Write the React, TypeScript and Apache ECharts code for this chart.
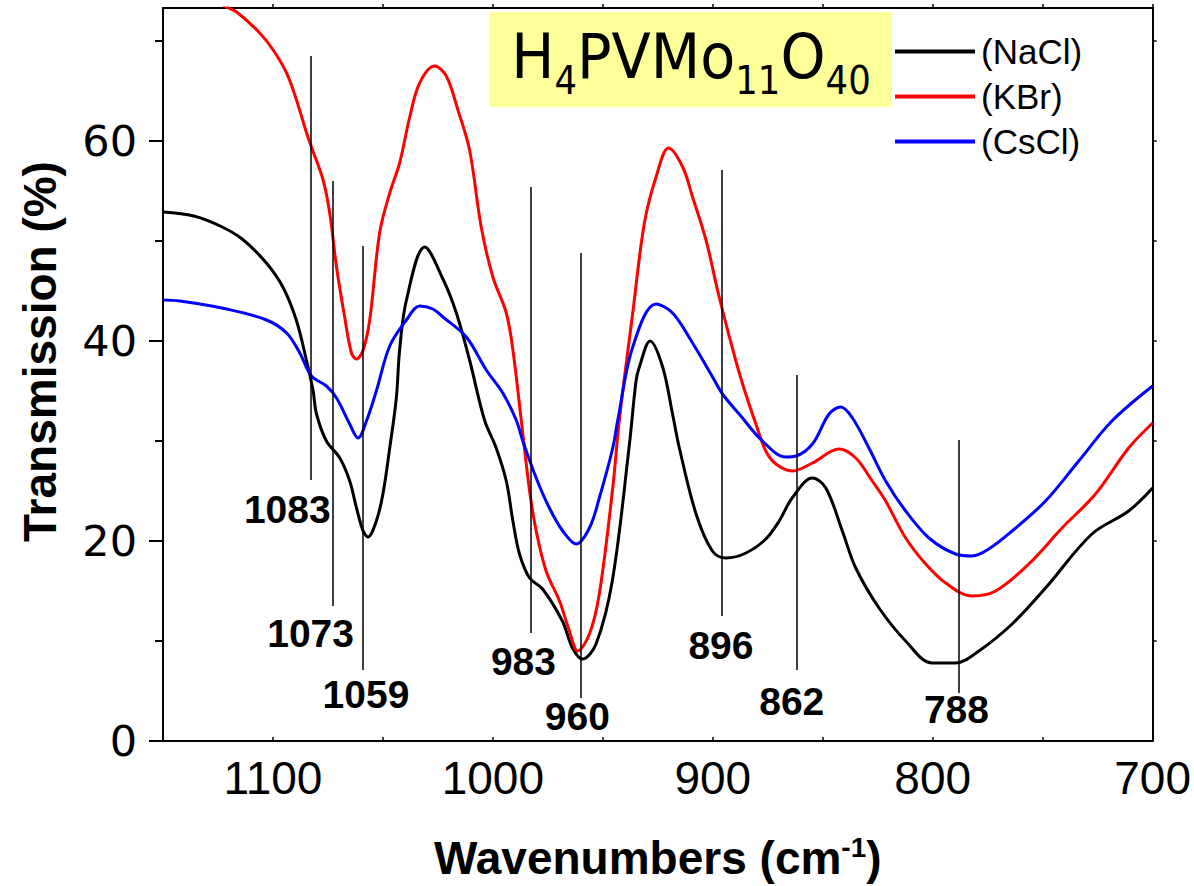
import React, { useEffect, useRef } from "react";
import * as echarts from "echarts";

// Wavenumber (cm-1), transmission (%)
const NACL: [number, number][] = [
  [1150, 52.9], [1136, 52.5], [1124, 51.5], [1114, 50.2], [1103, 47.8], [1095.5, 45.4],
  [1089.4, 42.1], [1084.8, 38.1], [1081.8, 35.1], [1080.2, 32.7], [1075.7, 30.0],
  [1069.6, 28.3], [1065.1, 26.0], [1062.0, 23.3], [1059.0, 21.0], [1056.8, 20.4],
  [1053.0, 22.0], [1050.0, 24.7], [1046.9, 29.3], [1043.9, 34.3], [1042.4, 39.1],
  [1039.3, 44.1], [1031.0, 49.4], [1022.7, 46.2], [1016.6, 42.8], [1010.6, 38.1],
  [1003.8, 32.1], [998.5, 29.3], [993.9, 26.0], [990.9, 22.0], [987.9, 18.7],
  [983.3, 16.3], [977.4, 15.2], [968.4, 12.0], [963.8, 9.3], [959.3, 8.2],
  [953.1, 9.7], [945.7, 16.0], [938.0, 29.5], [934.9, 36.0], [933.4, 37.4],
  [928.5, 40.0], [922.8, 37.4], [918.3, 32.7], [915.2, 29.3], [907.6, 22.7],
  [900.2, 19.0], [894.0, 18.3], [884.9, 18.8], [875.9, 20.2], [869.8, 22.0],
  [863.9, 24.3], [854.7, 26.3], [848.6, 25.3], [841.1, 21.0], [835.0, 17.3],
  [824.4, 13.3], [812.3, 10.0], [800.2, 7.8], [789.6, 7.8], [779.0, 9.0],
  [763.9, 11.7], [748.7, 15.3], [727.6, 20.7], [710.9, 23.0], [700, 25.3],
];

const KBR: [number, number][] = [
  [1150, 77.0], [1135, 75.3], [1121.1, 73.4], [1116.5, 72.9], [1106.0, 70.8],
  [1099.9, 69.1], [1093.8, 66.8], [1089.3, 64.1], [1084.7, 60.8], [1082.5, 59.4],
  [1077.2, 56.1], [1074.2, 52.8], [1071.1, 47.4], [1067.4, 42.4], [1064.3, 38.8],
  [1062.0, 38.2], [1059.0, 39.1], [1056.0, 42.1], [1051.5, 50.8], [1046.9, 54.8],
  [1042.4, 57.8], [1037.8, 62.4], [1033.3, 65.8], [1026.5, 67.5], [1021.2, 66.5],
  [1015.9, 63.1], [1010.6, 59.1], [1005.3, 51.4], [1000.0, 46.4], [993.9, 42.8],
  [990.9, 39.1], [987.1, 32.1], [983.3, 25.0], [980.3, 21.0], [975.8, 17.0],
  [969.7, 14.0], [965.2, 11.0], [961.4, 9.0], [956.1, 10.7], [951.6, 14.7],
  [945.5, 25.3], [942.5, 32.1], [936.4, 42.8], [931.1, 51.8], [925.8, 56.4],
  [920.1, 59.3], [913.7, 57.4], [909.2, 54.4], [903.1, 50.1], [897.1, 44.4],
  [889.5, 38.0], [885.0, 34.7], [880.4, 31.7], [875.9, 29.0], [871.3, 27.7],
  [863.8, 27.0], [854.7, 27.8], [842.6, 29.2], [835.0, 28.3], [827.5, 26.0],
  [821.4, 24.0], [812.3, 20.3], [803.2, 17.7], [794.1, 15.8], [782.1, 14.5],
  [771.4, 15.0], [756.3, 17.7], [741.2, 21.3], [726.0, 24.7], [710.9, 29.3], [700, 31.8],
];

const CSCL: [number, number][] = [
  [1150, 44.1], [1142.3, 44.0], [1121.1, 43.2], [1102.9, 42.1], [1093.8, 40.8],
  [1087.8, 38.8], [1082.5, 36.5], [1075.7, 35.5], [1071.1, 34.3], [1065.1, 31.7],
  [1061.3, 30.3], [1057.5, 32.0], [1053.0, 35.0], [1046.9, 39.5], [1039.3, 42.1],
  [1033.3, 43.5], [1027.3, 43.2], [1022.7, 42.4], [1012.1, 40.4], [1003.0, 37.1],
  [995.5, 34.8], [989.4, 32.1], [986.4, 30.0], [980.3, 26.3], [974.3, 23.3],
  [968.2, 21.0], [962.1, 19.7], [956.1, 21.3], [951.6, 24.3], [945.5, 29.3],
  [943.2, 32.1], [936.4, 39.4], [925.8, 43.7], [918.3, 42.8], [909.2, 39.8],
  [900.1, 36.4], [895.6, 34.7], [888.0, 32.7], [877.4, 30.0], [866.8, 28.4],
  [862.2, 28.5], [854.7, 29.7], [847.1, 32.7], [841.8, 33.4], [836.5, 32.3],
  [829.0, 29.3], [821.4, 26.0], [812.3, 23.0], [801.7, 20.3], [789.6, 18.7],
  [782.1, 18.5], [774.5, 19.2], [763.9, 21.0], [748.7, 24.0], [733.6, 28.0],
  [718.5, 32.0], [700, 35.5],
];

// Peak annotations
const PEAKS = [1083, 1073, 1059, 983, 960, 896, 862, 788];
const PEAK_TOP = [68.5, 56.0, 49.5, 55.4, 48.8, 57.1, 36.6, 30.1];
const PEAK_BOTTOM = [26.1, 13.5, 7.1, 10.8, 4.3, 12.5, 7.1, 4.8];
// label anchor (wavenumber, transmission) of each peak label
const PEAK_LABEL_X = [1093.5, 1082.9, 1057.7, 986.1, 961.6, 896.3, 864.1, 789.2];
const PEAK_LABEL_Y = [23.15, 10.8, 4.7, 7.95, 2.5, 9.6, 4.0, 3.2];

const X_LABELS = [700, 800, 900, 1000, 1100];
const X_TICKS = [700, 750, 800, 850, 900, 950, 1000, 1050, 1100];
const Y_LABELS = [0, 20, 40, 60];
const Y_MINOR = [10, 30, 50, 70];
const Y_RIGHT_TICKS = [10, 20, 30, 40, 50, 60, 70];

const X_MIN = 700;
const X_MAX = 1150;
const Y_MIN = 0;
const Y_MAX = 73.3;

const ARIAL = "Liberation Sans, Arial, sans-serif";

export default function App() {
  const ref = useRef<HTMLDivElement>(null);
  useEffect(() => {
    if (!ref.current) return;
    const chart = echarts.init(ref.current, null, { renderer: "svg" });
    const lineSeries = (name: string, data: [number, number][], color: string) => ({
      name,
      type: "line",
      data,
      symbol: "none",
      showSymbol: false,
      smooth: 0.35,
      clip: true,
      lineStyle: { color, width: 3 },
      itemStyle: { color },
      z: 3,
    });
    chart.setOption({
      animation: false,
      backgroundColor: "#fff",
      grid: { left: 163, right: 40, top: 8, bottom: 145, containLabel: false },
      legend: {
        data: ["(NaCl)", "(KBr)", "(CsCl)"],
        orient: "vertical",
        left: 890,
        top: 29,
        icon: "rect",
        itemWidth: 80,
        itemHeight: 4,
        itemGap: 10,
        textStyle: { fontSize: 35, lineHeight: 35, fontFamily: ARIAL, color: "#000", padding: [0, 0, 0, 1] },
      },
      xAxis: [
        {
          type: "value",
          min: X_MIN,
          max: X_MAX,
          inverse: true,
          position: "bottom",
          axisLine: { show: true, onZero: false, lineStyle: { color: "#000", width: 2 } },
          axisTick: { show: true, inside: true, length: 4, customValues: X_TICKS, lineStyle: { color: "#000", width: 1.5 } },
          axisLabel: {
            customValues: X_LABELS,
            formatter: (v: number) => String(v),
            fontSize: 46,
            fontFamily: ARIAL,
            color: "#000",
            margin: 14,
          },
          splitLine: { show: false },
          name: "Wavenumbers (cm{sup|-1})",
          nameLocation: "middle",
          nameGap: 92,
          nameTextStyle: {
            fontSize: 46,
            fontWeight: "bold",
            fontFamily: ARIAL,
            color: "#000",
            rich: {
              sup: { fontSize: 28, fontWeight: "bold", fontFamily: ARIAL, color: "#000", padding: [0, 0, 22, 0] },
            },
          },
        },
        {
          type: "value",
          min: X_MIN,
          max: X_MAX,
          inverse: true,
          position: "top",
          axisLine: { show: true, onZero: false, lineStyle: { color: "#000", width: 2 } },
          axisTick: { show: true, inside: false, length: 4, customValues: X_TICKS, lineStyle: { color: "#000", width: 1.5 } },
          axisLabel: { show: false },
          splitLine: { show: false },
        },
      ],
      yAxis: [
        {
          type: "value",
          min: Y_MIN,
          max: Y_MAX,
          position: "left",
          axisLine: { show: true, onZero: false, lineStyle: { color: "#000", width: 2 } },
          axisTick: { show: true, length: 14, customValues: Y_LABELS, lineStyle: { color: "#000", width: 2 } },
          axisLabel: {
            customValues: Y_LABELS,
            formatter: (v: number) => String(v),
            fontSize: 43,
            fontFamily: "DejaVu Sans, sans-serif",
            color: "#000",
            margin: 26,
          },
          splitLine: { show: false },
          name: "Transmission (%)",
          nameLocation: "middle",
          nameGap: 100,
          nameTextStyle: { fontSize: 46, fontWeight: "bold", fontFamily: ARIAL, color: "#000", padding: [0, 0, 0, 46] },
        },
        {
          type: "value",
          min: Y_MIN,
          max: Y_MAX,
          position: "left",
          axisLine: { show: false },
          axisTick: { show: true, length: 8, customValues: Y_MINOR, lineStyle: { color: "#000", width: 2 } },
          axisLabel: { show: false },
          splitLine: { show: false },
        },
        {
          type: "value",
          min: Y_MIN,
          max: Y_MAX,
          position: "right",
          axisLine: { show: true, onZero: false, lineStyle: { color: "#000", width: 2 } },
          axisTick: { show: true, length: 4, customValues: Y_RIGHT_TICKS, lineStyle: { color: "#000", width: 1.5 } },
          axisLabel: { show: false },
          splitLine: { show: false },
        },
      ],
      series: [
        {
          name: "peaks",
          type: "line",
          data: [],
          markLine: {
            silent: true,
            symbol: ["none", "none"],
            label: { show: false },
            lineStyle: { color: "#000", width: 1.5, type: "solid" },
            data: PEAKS.map((w, i) => [{ coord: [w, PEAK_TOP[i]] }, { coord: [w, PEAK_BOTTOM[i]] }]),
          },
        },
        lineSeries("(NaCl)", NACL, "#000000"),
        lineSeries("(KBr)", KBR, "#ff0000"),
        lineSeries("(CsCl)", CSCL, "#0000ff"),
        {
          name: "peakLabels",
          type: "scatter",
          data: PEAKS.map((w, i) => ({ value: [PEAK_LABEL_X[i], PEAK_LABEL_Y[i]], name: String(w) })),
          symbolSize: 0,
          itemStyle: { color: "#000", opacity: 1 },
          silent: true,
          label: {
            show: true,
            position: "inside",
            formatter: (p: any) => p.name,
            fontSize: 39,
            fontWeight: "bold",
            fontFamily: ARIAL,
            color: "#000000",
            textBorderWidth: 0,
          },
          z: 5,
        },
      ],
      graphic: [
        {
          type: "rect",
          shape: { x: 490, y: 12, width: 402, height: 95 },
          style: { fill: "#ffff99" },
          z: 10,
        },
        {
          type: "text",
          x: 691,
          y: 68,
          scaleX: 0.91,
          style: {
            text: "{m|H}{s|4}{m|PVMo}{s|11}{m|O}{s|40}",
            align: "center",
            verticalAlign: "middle",
            fill: "#000",
            rich: {
              m: { fontSize: 63, fontFamily: "DejaVu Sans, sans-serif", lineHeight: 63, verticalAlign: "bottom", padding: [0, 0, 12, 0], fill: "#000" },
              s: { fontSize: 39, fontFamily: "DejaVu Sans, sans-serif", lineHeight: 39, verticalAlign: "bottom", fill: "#000" },
            },
          },
          z: 11,
        },
      ],
    });
    return () => chart.dispose();
  }, []);
  return (
    <div
      ref={ref}
      style={{ position: "fixed", left: 0, top: 0, width: 1194, height: 886, background: "#fff" }}
    />
  );
}
